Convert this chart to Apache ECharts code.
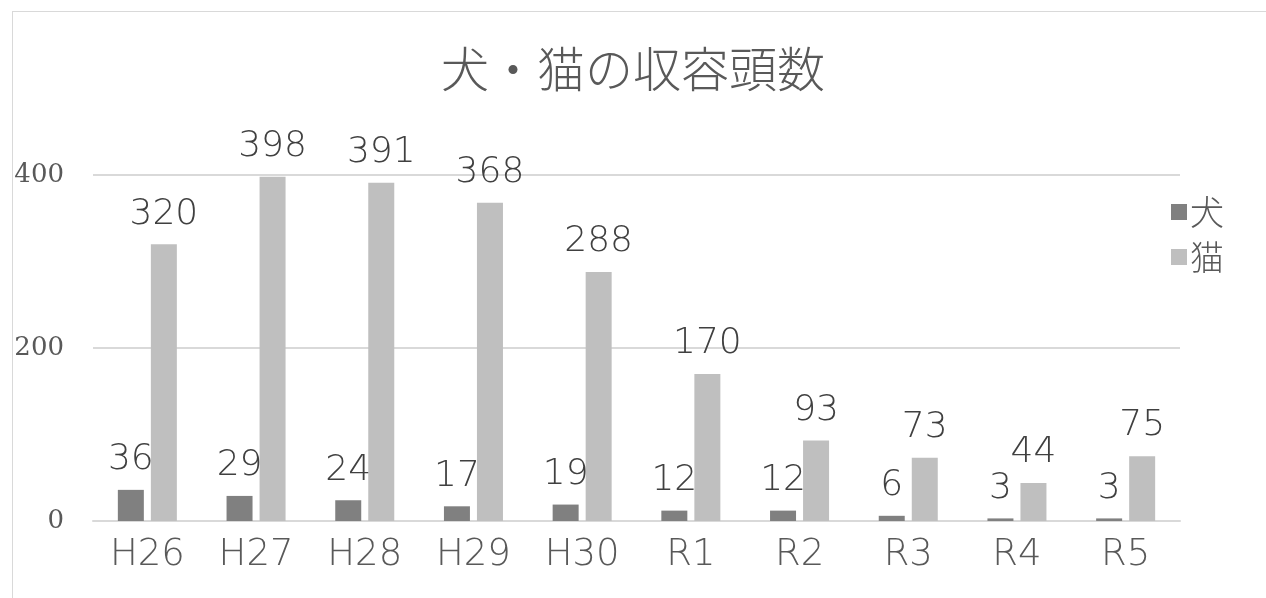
<!DOCTYPE html>
<html><head><meta charset="utf-8">
<script src="https://cdn.jsdelivr.net/npm/echarts@6/dist/echarts.min.js"></script>
<style>
html,body{margin:0;padding:0;background:#fff;}
#frame{position:absolute;left:12px;top:11px;width:1300px;height:640px;border:1px solid #d9d9d9;box-sizing:border-box;}
#c{position:absolute;left:0;top:0;width:1266px;height:598px;}
</style></head>
<body><div id="frame"></div><div id="c"></div>
<script>
const categories = ['H26','H27','H28','H29','H30','R1','R2','R3','R4','R5'];
const dogValues = [36,29,24,17,19,12,12,6,3,3];
const catValues = [320,398,391,368,288,170,93,73,44,75];
const yTicks = [0,200,400];
const seriesNames = ['犬','猫'];

const chart = echarts.init(document.getElementById('c'));
const labelStyle = {show:true, position:'top', distance:12, fontSize:36, color:'#404040', fontFamily:'DejaVu Sans', fontWeight:'lighter'};
chart.setOption({
  animation:false,
  title:{text:'犬・猫の収容頭数', left:'center', top:40, textStyle:{fontFamily:'Noto Sans CJK JP', fontSize:48, fontWeight:300, color:'#595959'}},
  legend:{orient:'vertical', left:1166, top:190, itemWidth:16, itemHeight:16, itemGap:11, icon:'rect',
    textStyle:{fontFamily:'Noto Sans CJK JP', fontSize:34, fontWeight:300, color:'#595959', padding:[0,0,0,-2]},
    data:seriesNames},
  grid:{left:93, right:86, top:175, bottom:77, containLabel:false},
  xAxis:{type:'category', data:categories,
    axisLine:{lineStyle:{color:'#d9d9d9', width:2}}, axisTick:{show:false},
    axisLabel:{fontFamily:'DejaVu Sans', fontSize:37, fontWeight:'lighter', color:'#595959', margin:16}},
  yAxis:{type:'value', min:yTicks[0], max:yTicks[yTicks.length-1], interval:200,
    axisLine:{show:false}, axisTick:{show:false},
    splitLine:{lineStyle:{color:'#d9d9d9', width:2}},
    axisLabel:{fontFamily:'"DejaVu Serif", "Liberation Serif", serif', fontSize:26, color:'#595959', margin:29}},
  series:[
    {name:seriesNames[0], type:'bar', data:dogValues, barWidth:26, barGap:'27%', itemStyle:{color:'#808080'}, label:labelStyle},
    {name:seriesNames[1], type:'bar', data:catValues, barWidth:26, itemStyle:{color:'#bfbfbf'}, label:labelStyle}
  ]
});
</script></body></html>
